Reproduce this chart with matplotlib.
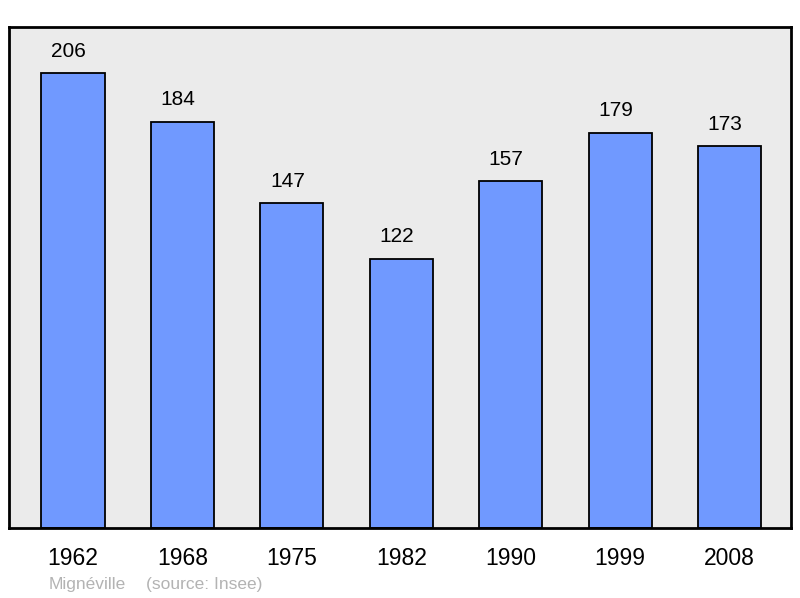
import matplotlib
matplotlib.use('Agg')
import matplotlib.pyplot as plt

years = ['1962', '1968', '1975', '1982', '1990', '1999', '2008']
population = [206, 184, 147, 122, 157, 179, 173]
town = 'Mignéville'
source = '(source: Insee)'

plt.rcParams['font.family'] = ['Liberation Sans', 'DejaVu Sans']

fig = plt.figure(figsize=(8, 5.98), dpi=100)
# axes box in pixel coords: left 9, right 791, top 27, bottom 528
ax = fig.add_axes([9 / 800, (598 - 528) / 598, 782 / 800, 501 / 598])
ax.set_facecolor('#ebebeb')

x = list(range(len(years)))
ax.bar(x, population, width=0.576, color='#7099ff', edgecolor='black', linewidth=1.3)
for xi, v in zip(x, population):
    ax.text(xi - 0.04, v + 5.5, str(v), ha='center', va='bottom', fontsize=15)

ax.set_xlim(-0.585, 6.562)
ax.set_ylim(0, 226.8)
ax.set_yticks([])
ax.set_xticks(x)
ax.set_xticklabels(years, fontsize=16.5)
ax.tick_params(axis='x', length=0, pad=14)
for s in ax.spines.values():
    s.set_linewidth(2)

fig.text(49 / 800, 1 - 585 / 598, town, fontsize=12.5, color='#b3b3b3', va='center')
fig.text(146 / 800, 1 - 585 / 598, source, fontsize=12.5, color='#b3b3b3', va='center')

fig.savefig('out.png', dpi=100)
